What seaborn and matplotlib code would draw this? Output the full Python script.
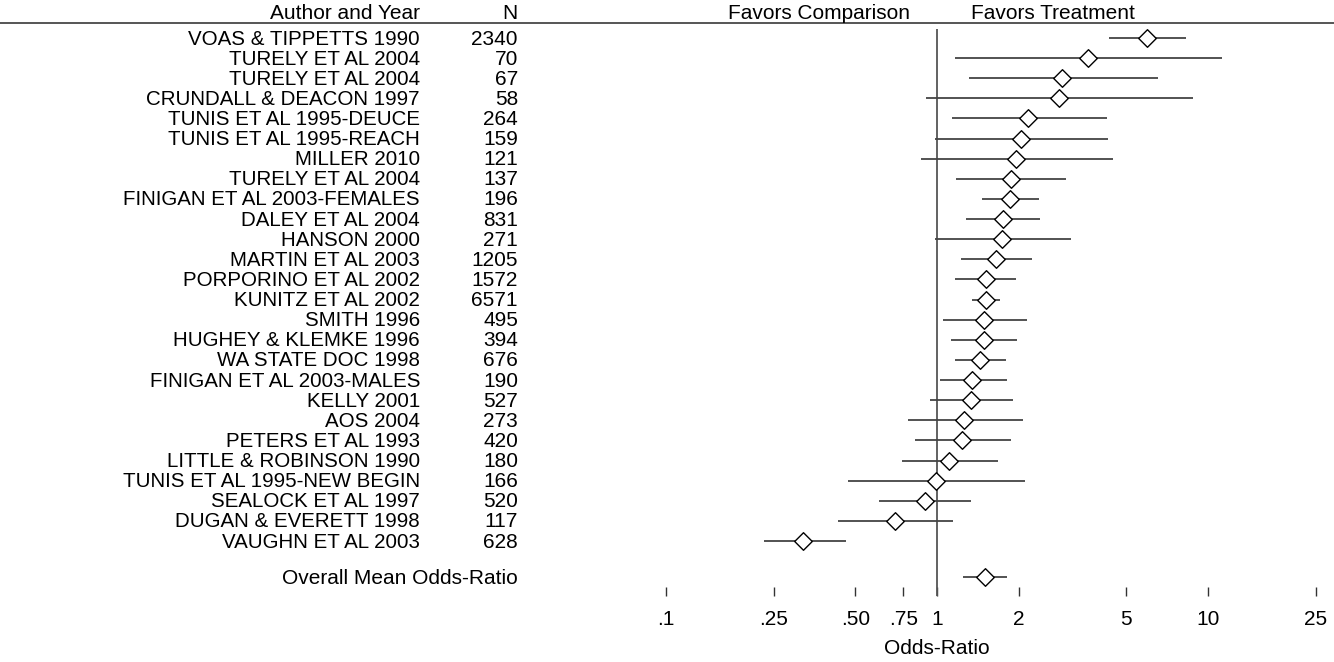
import numpy as np
import pandas as pd
import matplotlib
matplotlib.use('Agg')
import matplotlib.pyplot as plt
import matplotlib.transforms as mtransforms
import seaborn as sns

# Study labels and sample sizes (top to bottom)
studies = ['VOAS & TIPPETTS 1990', 'TURELY ET AL 2004', 'TURELY ET AL 2004',
           'CRUNDALL & DEACON 1997', 'TUNIS ET AL 1995-DEUCE', 'TUNIS ET AL 1995-REACH',
           'MILLER 2010', 'TURELY ET AL 2004', 'FINIGAN ET AL 2003-FEMALES',
           'DALEY ET AL 2004', 'HANSON 2000', 'MARTIN ET AL 2003',
           'PORPORINO ET AL 2002', 'KUNITZ ET AL 2002', 'SMITH 1996',
           'HUGHEY & KLEMKE 1996', 'WA STATE DOC 1998', 'FINIGAN ET AL 2003-MALES',
           'KELLY 2001', 'AOS 2004', 'PETERS ET AL 1993', 'LITTLE & ROBINSON 1990',
           'TUNIS ET AL 1995-NEW BEGIN', 'SEALOCK ET AL 1997', 'DUGAN & EVERETT 1998',
           'VAUGHN ET AL 2003']
n_sizes = [2340, 70, 67, 58, 264, 159, 121, 137, 196, 831, 271, 1205, 1572, 6571,
           495, 394, 676, 190, 527, 273, 420, 180, 166, 520, 117, 628]

# Odds-ratios with lower / upper confidence limits
odds_ratio = [5.94, 3.62, 2.90, 2.81, 2.17, 2.04, 1.96, 1.87, 1.86, 1.75, 1.73, 1.65,
              1.52, 1.52, 1.49, 1.49, 1.44, 1.35, 1.33, 1.26, 1.24, 1.11, 0.99, 0.90,
              0.70, 0.32]
ci_low = [4.31, 1.17, 1.31, 0.91, 1.14, 0.98, 0.87, 1.18, 1.46, 1.28, 0.98, 1.23,
          1.17, 1.35, 1.05, 1.13, 1.17, 1.03, 0.94, 0.78, 0.83, 0.74, 0.47, 0.61,
          0.43, 0.23]
ci_high = [8.30, 11.3, 6.52, 8.83, 4.23, 4.29, 4.45, 2.99, 2.38, 2.40, 3.11, 2.25,
           1.96, 1.71, 2.14, 1.98, 1.79, 1.81, 1.91, 2.08, 1.88, 1.68, 2.11, 1.33,
           1.15, 0.46]

# Overall summary
overall_or = 1.50
overall_low = 1.25
overall_high = 1.81

tick_values = [0.1, 0.25, 0.5, 0.75, 1, 2, 5, 10, 25]
tick_labels = ['.1', '.25', '.50', '.75', '1', '2', '5', '10', '25']

df = pd.DataFrame({'study': studies, 'n': n_sizes, 'or': odds_ratio,
                   'low': ci_low, 'high': ci_high})
df['row'] = np.arange(len(df))
overall_row = len(df) + 0.79

sns.set_style('white')
plt.rcParams['font.family'] = ['Liberation Sans', 'DejaVu Sans']
plt.rcParams['text.color'] = 'black'
plt.rcParams['xtick.labelcolor'] = 'black'
fs = 15
fs_names = 14.8

W, H = 1334, 662
fig = plt.figure(figsize=(W / 100, H / 100), dpi=100)
# axes spans full width; top spine is the header rule
ax = fig.add_axes([0, (H - 587) / H, 1, (587 - 22.7) / H])
ax.set_xscale('log')
px_per_decade = 271
x_one = 937
ax.set_xlim(10 ** ((0 - x_one) / px_per_decade), 10 ** ((W - x_one) / px_per_decade))
ax.set_ylim((587 - 38) / 20.12, (22.7 - 38) / 20.12)

line_col = '#444444'

# Reference line at OR = 1
ax.vlines(1, (29 - 38) / 20.12, (596 - 38) / 20.12, color='#555555', lw=1.3,
          clip_on=False, zorder=1)

# Confidence intervals
ax.hlines(df['row'], df['low'], df['high'], color=line_col, lw=1.3, zorder=2)
ax.hlines(overall_row, overall_low, overall_high, color=line_col, lw=1.3, zorder=2)

# Diamonds
sns.scatterplot(data=df, x='or', y='row', marker='D', s=80, color='white',
                edgecolor='black', linewidth=1.0, ax=ax, zorder=3, legend=False)
ax.scatter([overall_or], [overall_row], marker='D', s=80, color='white',
           edgecolor='black', linewidth=1.0, zorder=3)

# Spines and ticks
for side in ['left', 'right', 'bottom']:
    ax.spines[side].set_visible(False)
ax.spines['top'].set_color('#555555')
ax.spines['top'].set_linewidth(1.4)
ax.set_yticks([])
ax.set_xticks(tick_values)
ax.set_xticklabels(tick_labels, fontsize=fs)
ax.minorticks_off()
ax.tick_params(axis='x', which='major', bottom=True, direction='out', length=6.5,
               width=1, color='#333333', pad=10)
ax.tick_params(axis='x', which='minor', bottom=False)
ax.set_xlabel('')
ax.set_ylabel('')

# Left text columns (x in figure coords, y in data rows)
trans = mtransforms.blended_transform_factory(fig.transFigure, ax.transData)
name_x = 420 / W
n_x = 518 / W
for _, r in df.iterrows():
    ax.text(name_x, r['row'] + 0.05, r['study'], transform=trans, ha='right',
            va='center', fontsize=fs_names)
    ax.text(n_x, r['row'] + 0.05, str(r['n']), transform=trans, ha='right',
            va='center', fontsize=fs)
ax.text(n_x, overall_row + 0.05, 'Overall Mean Odds-Ratio', transform=trans,
        ha='right', va='center', fontsize=fs)

# Header
head_y = (13.5 - 38) / 20.12
ax.text(name_x, head_y, 'Author and Year', transform=trans, ha='right',
        va='center', fontsize=fs)
ax.text(n_x, head_y, 'N', transform=trans, ha='right', va='center', fontsize=fs)
ax.text(819 / W, head_y, 'Favors Comparison', transform=trans, ha='center',
        va='center', fontsize=fs)
ax.text(1053 / W, head_y, 'Favors Treatment', transform=trans, ha='center',
        va='center', fontsize=fs)

# x label centred under OR = 1
ax.text(1, (648 - 38) / 20.12, 'Odds-Ratio', ha='center', va='center',
        fontsize=fs, clip_on=False)

fig.savefig('out.png', dpi=100)
